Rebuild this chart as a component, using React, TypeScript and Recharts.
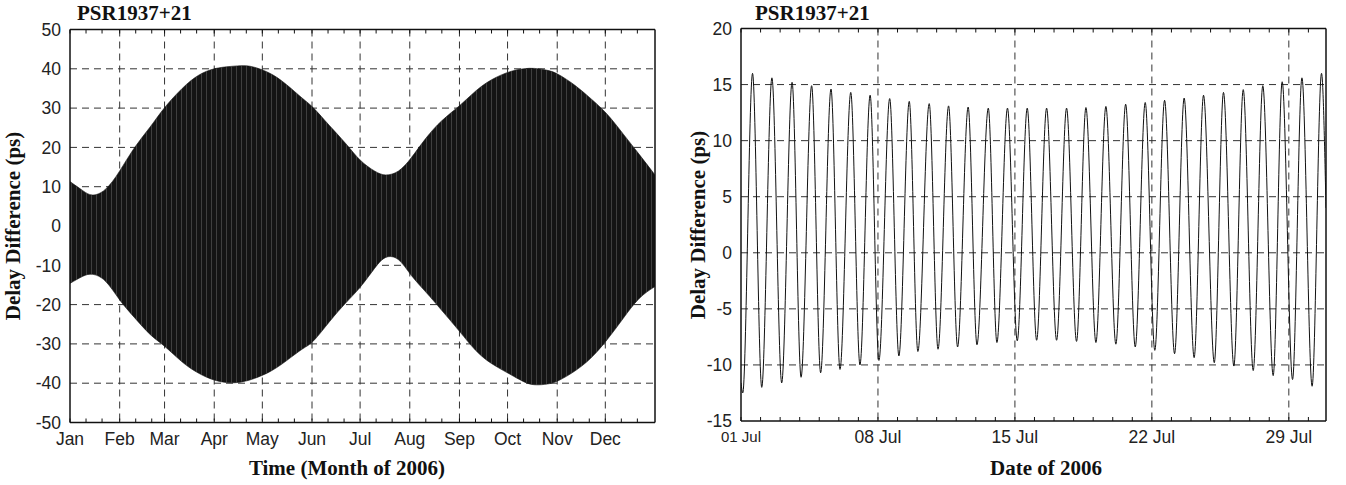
import React from "react";
import { ComposedChart, Area, Line, XAxis, YAxis, CartesianGrid } from "recharts";

// ---- left panel: whole year, envelope of the daily oscillation ----
const monthNames = ["Jan", "Feb", "Mar", "Apr", "May", "Jun", "Jul", "Aug", "Sep", "Oct", "Nov", "Dec"];
const monthStartDays = [0, 31, 59, 90, 120, 151, 181, 212, 243, 273, 304, 334];
const yearTicksPs = [-50, -40, -30, -20, -10, 0, 10, 20, 30, 40, 50];

const envDay = [0, 8, 14, 22, 31, 40, 50, 59, 70, 80, 90, 100, 108, 115, 125, 135, 145, 152, 162, 172, 181, 190, 197, 205, 213, 222, 232, 243, 253, 263, 274, 283, 290, 298, 305, 315, 325, 335, 345, 355, 365];
const envHighPs = [11.3, 9.0, 7.9, 9.3, 14.0, 19.8, 25.2, 30.1, 35.0, 38.3, 40.0, 40.6, 40.8, 40.4, 38.8, 36.0, 32.5, 30.0, 25.5, 21.0, 16.8, 14.0, 13.0, 14.0, 17.4, 22.3, 26.8, 30.6, 34.3, 37.2, 39.2, 40.0, 40.1, 39.6, 38.5, 35.8, 32.4, 28.5, 23.5, 18.3, 13.0];
const envLowPs = [-14.6, -12.8, -12.3, -14.0, -18.8, -23.2, -27.6, -30.6, -34.6, -37.4, -39.2, -39.9, -39.6, -38.8, -37.0, -34.3, -31.3, -29.2, -24.3, -19.6, -15.6, -10.8, -8.0, -8.6, -12.6, -16.8, -21.5, -26.8, -31.6, -35.0, -37.6, -39.6, -40.4, -40.2, -39.3, -36.9, -33.6, -29.0, -23.6, -18.5, -15.4];

// ---- right panel: July, peaks and troughs of each sidereal day ----
const julyTicks = [0, 7, 14, 21, 28];
const julyTickLabels = ["01 Jul", "08 Jul", "15 Jul", "22 Jul", "29 Jul"];
const julyTicksPs = [-15, -10, -5, 0, 5, 10, 15, 20];

const julyPeakDay = [0.59, 1.58, 2.61, 3.61, 4.6, 5.61, 6.6, 7.6, 8.6, 9.62, 10.61, 11.61, 12.64, 13.62, 14.63, 15.62, 16.64, 17.63, 18.65, 19.66, 20.66, 21.65, 22.65, 23.64, 24.66, 25.67, 26.67, 27.66, 28.67, 29.67];
const julyPeakPs = [16.0, 15.6, 15.2, 14.9, 14.6, 14.3, 14.05, 13.75, 13.5, 13.3, 13.1, 13.0, 12.9, 12.9, 12.9, 12.9, 12.9, 12.95, 13.05, 13.25, 13.4, 13.6, 13.8, 14.05, 14.3, 14.55, 14.9, 15.25, 15.6, 16.0];
const julyTroughDay = [0.09, 1.06, 2.08, 3.07, 4.07, 5.06, 6.08, 7.05, 8.07, 9.04, 10.07, 11.07, 12.06, 13.08, 14.12, 15.11, 16.13, 17.15, 18.14, 19.16, 20.15, 21.15, 22.16, 23.16, 24.19, 25.19, 26.18, 27.2, 28.19, 29.19];
const julyTroughPs = [-12.5, -12.0, -11.6, -11.1, -10.7, -10.4, -10.0, -9.6, -9.2, -8.8, -8.6, -8.4, -8.2, -8.0, -7.85, -7.8, -7.8, -7.9, -8.0, -8.15, -8.4, -8.7, -9.0, -9.35, -9.8, -10.1, -10.5, -10.95, -11.3, -11.9];
const julyEnds = [
  { day: 0, ps: -11.6 },
  { day: 29.9, ps: 4.0 },
];

const yearData = envDay.map((day, i) => ({ day, range: [envLowPs[i], envHighPs[i]] }));
const yearMinor = monthStartDays.flatMap((d) => [d, d + 10, d + 20]);

const julyData = [
  ...julyEnds,
  ...julyPeakDay.map((day, i) => ({ day, ps: julyPeakPs[i] })),
  ...julyTroughDay.map((day, i) => ({ day, ps: julyTroughPs[i] })),
].sort((a, b) => a.day - b.day);
const julyMinor = Array.from({ length: 30 }, (_, i) => i);

const sans = "'Liberation Sans', Arial, Helvetica, sans-serif";
const serif = "'Liberation Serif', 'Times New Roman', serif";
const ink = "#111";
const tickFont = { fontSize: 17.5, fontFamily: sans, fill: "#222" };
const frame = { stroke: ink, strokeWidth: 1.5 };
const gridDash = "7 5";

const NoTick = () => null;

function JulTick({ x, y, payload }: any) {
  const i = julyTicks.indexOf(payload.value);
  return (
    <text x={x} y={y} dy="0.71em" textAnchor="middle" fontFamily={sans} fontSize={i === 0 ? 15 : 17.5} fill="#222">
      {julyTickLabels[i]}
    </text>
  );
}

function YearPanel() {
  return (
    <ComposedChart width={670} height={485} data={yearData} margin={{ top: 29.5, right: 15, bottom: 32.5, left: 30 }}>
      <defs>
        <pattern id="streaks" width="5" height="10" patternUnits="userSpaceOnUse">
          <rect width="5" height="10" fill="#141414" />
          <rect x="1" width="0.8" height="10" fill="#4a4a4a" />
        </pattern>
      </defs>
      <CartesianGrid
        xAxisId="b"
        yAxisId="l"
        stroke="#333"
        strokeDasharray={gridDash}
        horizontalValues={yearTicksPs.slice(1, -1)}
        verticalValues={monthStartDays.slice(1)}
      />
      <XAxis
        xAxisId="b"
        dataKey="day"
        type="number"
        domain={[0, 365]}
        allowDataOverflow
        ticks={monthStartDays}
        tickFormatter={(v) => monthNames[monthStartDays.indexOf(v)]}
        height={30}
        stroke={ink}
        axisLine={frame}
        tickLine={false}
        tickSize={6}
        tickMargin={4}
        tick={tickFont}
        interval={0}
      />
      <XAxis xAxisId="bm" dataKey="day" type="number" domain={[0, 365]} allowDataOverflow ticks={yearMinor} mirror orientation="bottom" tick={NoTick} tickSize={4} stroke={ink} axisLine={false} interval={0} />
      <XAxis xAxisId="t" dataKey="day" type="number" domain={[0, 365]} allowDataOverflow ticks={yearMinor} mirror orientation="top" tick={NoTick} tickSize={4} stroke={ink} axisLine={frame} interval={0} />
      <YAxis
        yAxisId="l"
        type="number"
        domain={[-50, 50]}
        ticks={yearTicksPs}
        width={40}
        stroke={ink}
        axisLine={frame}
        tickLine={false}
        tickSize={4}
        tickMargin={5}
        tick={tickFont}
        interval={0}
      />
      <YAxis yAxisId="r" type="number" domain={[-50, 50]} ticks={yearTicksPs} orientation="right" mirror tick={NoTick} tickSize={4} stroke={ink} axisLine={frame} interval={0} />
      <Area
        xAxisId="b"
        yAxisId="l"
        type="natural"
        dataKey="range"
        stroke="#111"
        strokeWidth={0.6}
        fill="url(#streaks)"
        fillOpacity={1}
        isAnimationActive={false}
      />
    </ComposedChart>
  );
}

function JulyPanel() {
  return (
    <ComposedChart width={676} height={485} data={julyData} margin={{ top: 28.5, right: 20, bottom: 34, left: 31 }}>
      <CartesianGrid
        xAxisId="b"
        yAxisId="l"
        stroke="#333"
        strokeDasharray={gridDash}
        horizontalValues={julyTicksPs.slice(1, -1)}
        verticalValues={julyTicks.slice(1)}
      />
      <XAxis
        xAxisId="b"
        dataKey="day"
        type="number"
        domain={[0, 29.9]}
        allowDataOverflow
        ticks={julyTicks}
        height={30}
        stroke={ink}
        axisLine={frame}
        tickLine={false}
        tickSize={6}
        tickMargin={4}
        tick={<JulTick />}
        interval={0}
      />
      <XAxis xAxisId="bm" dataKey="day" type="number" domain={[0, 29.9]} allowDataOverflow ticks={julyMinor} mirror orientation="bottom" tick={NoTick} tickSize={4} stroke={ink} axisLine={false} interval={0} />
      <XAxis xAxisId="t" dataKey="day" type="number" domain={[0, 29.9]} allowDataOverflow ticks={julyMinor} mirror orientation="top" tick={NoTick} tickSize={4} stroke={ink} axisLine={frame} interval={0} />
      <YAxis
        yAxisId="l"
        type="number"
        domain={[-15, 20]}
        ticks={julyTicksPs}
        width={40}
        stroke={ink}
        axisLine={frame}
        tickLine={false}
        tickSize={4}
        tickMargin={5}
        tick={tickFont}
        interval={0}
      />
      <YAxis yAxisId="r" type="number" domain={[-15, 20]} ticks={julyTicksPs} orientation="right" mirror tick={NoTick} tickSize={4} stroke={ink} axisLine={frame} interval={0} />
      <Line
        xAxisId="b"
        yAxisId="l"
        type="monotone"
        dataKey="ps"
        stroke="#111"
        strokeWidth={1}
        dot={false}
        isAnimationActive={false}
      />
    </ComposedChart>
  );
}

export default function App() {
  const label = { fontFamily: serif, fontWeight: 700, fontSize: 21, fill: "#111" } as const;
  return (
    <div style={{ position: "absolute", left: 0, top: 0, width: 1346, height: 485, background: "#fff", overflow: "hidden" }}>
      <div style={{ position: "absolute", left: 0, top: 0 }}>
        <YearPanel />
      </div>
      <div style={{ position: "absolute", left: 670, top: 0 }}>
        <JulyPanel />
      </div>
      <svg width={1346} height={485} style={{ position: "absolute", left: 0, top: 0, pointerEvents: "none" }}>
        <text x={77} y={20} {...label}>PSR1937+21</text>
        <text x={755} y={20} {...label}>PSR1937+21</text>
        <text x={347} y={475} textAnchor="middle" {...label}>Time (Month of 2006)</text>
        <text x={1046} y={475} textAnchor="middle" {...label}>Date of 2006</text>
        <text transform="translate(20,226) rotate(-90)" textAnchor="middle" {...label}>Delay Difference (ps)</text>
        <text transform="translate(705,225) rotate(-90)" textAnchor="middle" {...label}>Delay Difference (ps)</text>
      </svg>
    </div>
  );
}
